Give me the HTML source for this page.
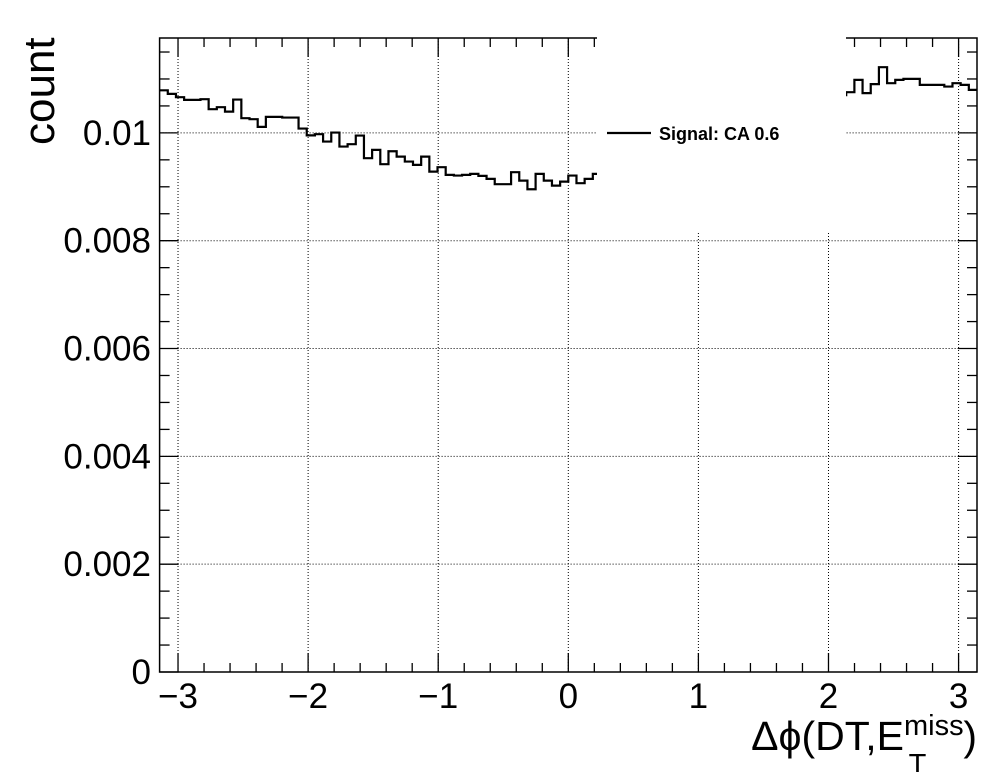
<!DOCTYPE html>
<html><head><meta charset="utf-8">
<style>
html,body{margin:0;padding:0;background:#fff;}
svg{display:block;font-family:"Liberation Sans",Arial,sans-serif;}
</style></head>
<body>
<svg id="chart" width="996" height="772" viewBox="0 0 996 772" xmlns="http://www.w3.org/2000/svg">
<rect x="0" y="0" width="996" height="772" fill="#fff"/>
<g id="grid"></g>
<g id="hist"></g>
<g id="axes"></g>
<g id="legend"></g>
<text transform="translate(54,145) rotate(-90)" font-size="44" fill="#000">count</text>
<text x="977" y="750" text-anchor="end" font-size="41" fill="#000">Δϕ(DT,E<tspan font-size="29" dy="-15">miss</tspan><tspan font-size="29" dx="-55" dy="39">T</tspan><tspan font-size="41" dx="37" dy="-24">)</tspan></text>
</svg>
<script>
const xTickLabels = ["\u22123","\u22122","\u22121","0","1","2","3"];
const xTickValues = [-3,-2,-1,0,1,2,3];
const yTickValues = [0,0.002,0.004,0.006,0.008,0.01];
const yTickLabels = ["0","0.002","0.004","0.006","0.008","0.01"];
const binCount = 100;
const binValues = [
0.01079,0.010724,0.010662,0.010612,0.010612,0.010625,0.01044,0.010477,0.010395,0.010618,
0.010273,0.010254,0.010111,0.010297,0.010297,0.010284,0.010284,0.01008,0.009954,0.009976,
0.009839,0.010006,0.009746,0.00979,0.00995,0.009531,0.009685,0.009419,0.00966,0.00956,
0.009468,0.009406,0.00956,0.009282,0.009364,0.009221,0.009208,0.009221,0.009239,0.009202,
0.009147,0.009048,0.009048,0.009271,0.009115,0.008955,0.009239,0.009115,0.009022,0.009096,
0.009208,0.009067,0.009147,0.009239,0.00925,0.0093,0.0093,0.00935,0.0094,0.0094,
0.00945,0.0095,0.0095,0.00955,0.0096,0.0097,0.0097,0.0098,0.0099,0.0099,
0.0100,0.0101,0.0101,0.0102,0.0103,0.0103,0.0104,0.0105,0.0105,0.0106,
0.0106,0.0107,0.0107,0.0107,0.010755,0.010983,0.010737,0.010904,0.011219,0.010922,
0.010983,0.011002,0.011002,0.010891,0.010891,0.010891,0.010859,0.010922,0.010891,0.010798];
const legendLabels = ["Signal: CA 0.6"];

const NS="http://www.w3.org/2000/svg";
const X0=159.6, X1=977, Y0=672, Y1=38;
const XMIN=-Math.PI, XMAX=Math.PI, YMIN=0, YMAX=0.01176;
function sx(v){return X0+(v-XMIN)/(XMAX-XMIN)*(X1-X0);}
function sy(v){return Y0-(v-YMIN)/(YMAX-YMIN)*(Y0-Y1);}
function mk(tag,attrs,parent){const e=document.createElementNS(NS,tag);for(const k in attrs)e.setAttribute(k,attrs[k]);parent.appendChild(e);return e;}

const grid=document.getElementById('grid');
xTickValues.forEach(v=>{
  const l=mk('line',{x1:sx(v),x2:sx(v),y1:Y1,y2:Y0,stroke:'#000','stroke-width':1,'stroke-dasharray':'1,2'},grid);
  
  
});
yTickValues.forEach(v=>{
  const l=mk('line',{x1:X0,x2:X1,y1:sy(v),y2:sy(v),stroke:'#000','stroke-width':1,'stroke-dasharray':'1,2'},grid);
  
  
});

const hist=document.getElementById('hist');
let d='';
const bw=(XMAX-XMIN)/binCount;
for(let i=0;i<binCount;i++){
  const xa=sx(XMIN+i*bw), xb=sx(XMIN+(i+1)*bw), y=sy(binValues[i]);
  d+=(i===0?'M'+xa+','+y:'L'+xa+','+y)+'L'+xb+','+y;
}
const hp=mk('path',{d:d,fill:'none',stroke:'#000','stroke-width':2.2},hist);



const axes=document.getElementById('axes');
const frame=mk('rect',{x:X0,y:Y1,width:X1-X0,height:Y0-Y1,fill:'none',stroke:'#000','stroke-width':1.5},axes);


for(let k=-16;k<=16;k++){
  const v=k*0.2; if(v<XMIN||v>XMAX)continue;
  const major=(k%5===0); const len=major?19:9;
  const x=sx(v);
  const t1=mk('line',{x1:x,x2:x,y1:Y0,y2:Y0-len,stroke:'#000','stroke-width':1.3},axes);
  
  
  const t2=mk('line',{x1:x,x2:x,y1:Y1,y2:Y1+len,stroke:'#000','stroke-width':1.3},axes);
  
  
}
xTickValues.forEach((v,i)=>{
  const t=mk('text',{x:sx(v),y:708,'text-anchor':'middle','font-size':35,fill:'#000'},axes);
  t.textContent=xTickLabels[i];
  
  
});
for(let k=0;k*0.0005<=YMAX;k++){
  const v=k*0.0005; const major=(k%4===0); const len=major?19:10;
  const y=sy(v);
  const t1=mk('line',{x1:X0,x2:X0+len,y1:y,y2:y,stroke:'#000','stroke-width':1.3},axes);
  
  
  const t2=mk('line',{x1:X1,x2:X1-len,y1:y,y2:y,stroke:'#000','stroke-width':1.3},axes);
  
  
}
yTickValues.forEach((v,i)=>{
  const t=mk('text',{x:151,y:sy(v)+12,'text-anchor':'end','font-size':35,fill:'#000'},axes);
  t.textContent=yTickLabels[i];
  
  
});

const lg=document.getElementById('legend');
const box=mk('rect',{x:597,y:36,width:249,height:196,fill:'#fff'},lg);


const ll=mk('line',{x1:607,x2:651,y1:133,y2:133,stroke:'#000','stroke-width':2.2},lg);


const lt=mk('text',{x:659,y:140,'font-size':18,'font-weight':'bold',fill:'#000'},lg);
lt.textContent=legendLabels[0];


</script>
</body></html>
